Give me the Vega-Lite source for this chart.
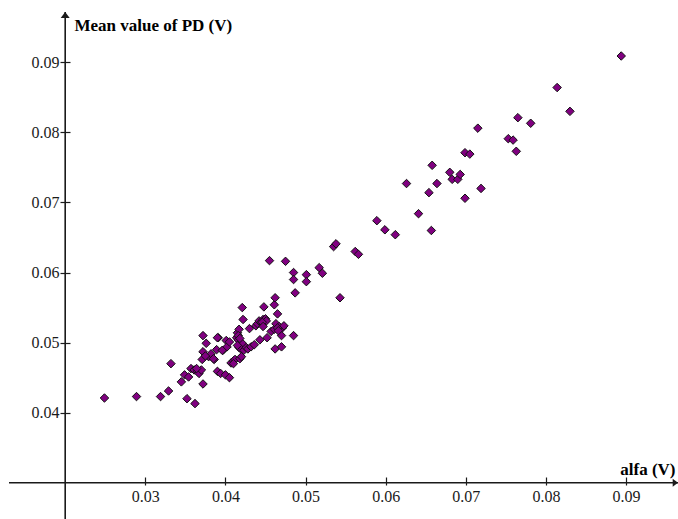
{
  "$schema": "https://vega.github.io/schema/vega-lite/v6.json",
  "width": 669,
  "height": 507,
  "autosize": {"type": "none"},
  "padding": {"left": 9, "top": 12, "right": 0, "bottom": 0},
  "background": "white",
  "config": {
    "view": {"stroke": null},
    "font": "Liberation Serif",
    "axis": {
      "grid": false,
      "domain": false,
      "labelFont": "Liberation Serif",
      "labelFontSize": 16,
      "labelColor": "#1a1a1a",
      "tickColor": "#1a1a1a",
      "tickWidth": 1.2,
      "titleFont": "Liberation Serif",
      "titleFontSize": 17,
      "titleFontWeight": "bold",
      "titleColor": "#000000"
    }
  },
  "datasets": {
    "one": [{}],
    "pd": [
      {"alfa": 0.0249, "pd": 0.0421}, {"alfa": 0.0289, "pd": 0.0423}, {"alfa": 0.0319, "pd": 0.0423},
      {"alfa": 0.0329, "pd": 0.0431}, {"alfa": 0.0345, "pd": 0.0444}, {"alfa": 0.0352, "pd": 0.0420},
      {"alfa": 0.0362, "pd": 0.0413}, {"alfa": 0.0332, "pd": 0.0470}, {"alfa": 0.0349, "pd": 0.0454},
      {"alfa": 0.0354, "pd": 0.0451}, {"alfa": 0.0357, "pd": 0.0463}, {"alfa": 0.0361, "pd": 0.0461},
      {"alfa": 0.0365, "pd": 0.0459}, {"alfa": 0.0367, "pd": 0.0456}, {"alfa": 0.0370, "pd": 0.0461},
      {"alfa": 0.0372, "pd": 0.0441}, {"alfa": 0.0371, "pd": 0.0476}, {"alfa": 0.0372, "pd": 0.0487},
      {"alfa": 0.0376, "pd": 0.0499}, {"alfa": 0.0372, "pd": 0.0510}, {"alfa": 0.0379, "pd": 0.0480},
      {"alfa": 0.0382, "pd": 0.0484}, {"alfa": 0.0386, "pd": 0.0476}, {"alfa": 0.0389, "pd": 0.0490},
      {"alfa": 0.0391, "pd": 0.0507}, {"alfa": 0.0390, "pd": 0.0459}, {"alfa": 0.0394, "pd": 0.0456},
      {"alfa": 0.0400, "pd": 0.0454}, {"alfa": 0.0405, "pd": 0.0450}, {"alfa": 0.0397, "pd": 0.0489},
      {"alfa": 0.0401, "pd": 0.0503}, {"alfa": 0.0402, "pd": 0.0494}, {"alfa": 0.0405, "pd": 0.0501},
      {"alfa": 0.0407, "pd": 0.0471}, {"alfa": 0.0410, "pd": 0.0474}, {"alfa": 0.0412, "pd": 0.0476},
      {"alfa": 0.0414, "pd": 0.0507}, {"alfa": 0.0415, "pd": 0.0514}, {"alfa": 0.0416, "pd": 0.0504},
      {"alfa": 0.0417, "pd": 0.0519}, {"alfa": 0.0417, "pd": 0.0493}, {"alfa": 0.0418, "pd": 0.0477},
      {"alfa": 0.0421, "pd": 0.0550}, {"alfa": 0.0422, "pd": 0.0533}, {"alfa": 0.0421, "pd": 0.0499},
      {"alfa": 0.0420, "pd": 0.0490}, {"alfa": 0.0423, "pd": 0.0489}, {"alfa": 0.0426, "pd": 0.0493},
      {"alfa": 0.0430, "pd": 0.0520}, {"alfa": 0.0428, "pd": 0.0491}, {"alfa": 0.0432, "pd": 0.0494},
      {"alfa": 0.0436, "pd": 0.0497}, {"alfa": 0.0438, "pd": 0.0524}, {"alfa": 0.0440, "pd": 0.0527},
      {"alfa": 0.0442, "pd": 0.0531}, {"alfa": 0.0443, "pd": 0.0504}, {"alfa": 0.0445, "pd": 0.0530},
      {"alfa": 0.0447, "pd": 0.0533}, {"alfa": 0.0450, "pd": 0.0534}, {"alfa": 0.0451, "pd": 0.0531},
      {"alfa": 0.0448, "pd": 0.0551}, {"alfa": 0.0452, "pd": 0.0507}, {"alfa": 0.0457, "pd": 0.0516},
      {"alfa": 0.0461, "pd": 0.0519}, {"alfa": 0.0461, "pd": 0.0554}, {"alfa": 0.0462, "pd": 0.0564},
      {"alfa": 0.0462, "pd": 0.0491}, {"alfa": 0.0465, "pd": 0.0541}, {"alfa": 0.0463, "pd": 0.0527},
      {"alfa": 0.0467, "pd": 0.0523}, {"alfa": 0.0470, "pd": 0.0510}, {"alfa": 0.0470, "pd": 0.0494},
      {"alfa": 0.0471, "pd": 0.0521}, {"alfa": 0.0473, "pd": 0.0524}, {"alfa": 0.0485, "pd": 0.0510},
      {"alfa": 0.0364, "pd": 0.0463}, {"alfa": 0.0375, "pd": 0.0481}, {"alfa": 0.0396, "pd": 0.0489},
      {"alfa": 0.0415, "pd": 0.0496}, {"alfa": 0.0446, "pd": 0.0529}, {"alfa": 0.0447, "pd": 0.0523},
      {"alfa": 0.0465, "pd": 0.0521}, {"alfa": 0.0466, "pd": 0.0517}, {"alfa": 0.0416, "pd": 0.0510},
      {"alfa": 0.0418, "pd": 0.0506}, {"alfa": 0.0390, "pd": 0.0507}, {"alfa": 0.0420, "pd": 0.0480},
      {"alfa": 0.0410, "pd": 0.0470}, {"alfa": 0.0385, "pd": 0.0477},
      {"alfa": 0.0455, "pd": 0.0617}, {"alfa": 0.0475, "pd": 0.0616}, {"alfa": 0.0485, "pd": 0.0600},
      {"alfa": 0.0485, "pd": 0.0590}, {"alfa": 0.0487, "pd": 0.0571}, {"alfa": 0.0501, "pd": 0.0597},
      {"alfa": 0.0501, "pd": 0.0587}, {"alfa": 0.0517, "pd": 0.0607}, {"alfa": 0.0521, "pd": 0.0599},
      {"alfa": 0.0543, "pd": 0.0564}, {"alfa": 0.0535, "pd": 0.0637}, {"alfa": 0.0538, "pd": 0.0641},
      {"alfa": 0.0562, "pd": 0.0630}, {"alfa": 0.0566, "pd": 0.0626}, {"alfa": 0.0589, "pd": 0.0674},
      {"alfa": 0.0599, "pd": 0.0661}, {"alfa": 0.0612, "pd": 0.0654}, {"alfa": 0.0626, "pd": 0.0727},
      {"alfa": 0.0641, "pd": 0.0684}, {"alfa": 0.0654, "pd": 0.0714}, {"alfa": 0.0657, "pd": 0.0660},
      {"alfa": 0.0658, "pd": 0.0753}, {"alfa": 0.0664, "pd": 0.0727}, {"alfa": 0.0680, "pd": 0.0743},
      {"alfa": 0.0683, "pd": 0.0733}, {"alfa": 0.0690, "pd": 0.0733}, {"alfa": 0.0693, "pd": 0.0740},
      {"alfa": 0.0699, "pd": 0.0771}, {"alfa": 0.0705, "pd": 0.0769}, {"alfa": 0.0699, "pd": 0.0706},
      {"alfa": 0.0715, "pd": 0.0806}, {"alfa": 0.0719, "pd": 0.0720}, {"alfa": 0.0753, "pd": 0.0791},
      {"alfa": 0.0759, "pd": 0.0789}, {"alfa": 0.0763, "pd": 0.0773}, {"alfa": 0.0765, "pd": 0.0821},
      {"alfa": 0.0781, "pd": 0.0813}, {"alfa": 0.0814, "pd": 0.0864}, {"alfa": 0.0830, "pd": 0.0830},
      {"alfa": 0.0894, "pd": 0.0909}
    ]
  },
  "layer": [
    {
      "description": "horizontal axis line at pd = 0.03",
      "data": {"name": "one"},
      "mark": {"type": "rule", "color": "#1a1a1a", "strokeWidth": 1.6},
      "encoding": {"y": {"datum": 0.03, "type": "quantitative", "scale": {"domain": [0.024832, 0.097178], "nice": false, "zero": false}}}
    },
    {
      "description": "vertical axis line at alfa = 0.02",
      "data": {"name": "one"},
      "mark": {"type": "rule", "color": "#1a1a1a", "strokeWidth": 1.6},
      "encoding": {"x": {"datum": 0.02, "type": "quantitative", "scale": {"domain": [0.012986, 0.096485], "nice": false, "zero": false}}}
    },
    {
      "description": "arrow head of the vertical axis",
      "data": {"name": "one"},
      "mark": {"type": "point", "shape": "M0,0L1,1.33L-1,1.33Z", "size": 81, "filled": true, "color": "#1a1a1a", "opacity": 1},
      "encoding": {
        "x": {"datum": 0.02, "type": "quantitative"},
        "y": {"datum": 0.097178, "type": "quantitative"}
      }
    },
    {
      "description": "arrow head of the horizontal axis",
      "data": {"name": "one"},
      "mark": {"type": "point", "shape": "M0,0L-1.33,-1L-1.33,1Z", "size": 64, "filled": true, "color": "#1a1a1a", "opacity": 1},
      "encoding": {
        "x": {"datum": 0.096485, "type": "quantitative"},
        "y": {"datum": 0.03, "type": "quantitative"}
      }
    },
    {
      "data": {"name": "pd"},
      "mark": {"type": "point", "shape": "diamond", "size": 72, "filled": true, "fill": "#800080", "stroke": "#111111", "strokeWidth": 1, "opacity": 1},
      "encoding": {
        "x": {
          "field": "alfa",
          "type": "quantitative",
          "axis": {
            "orient": "bottom",
            "offset": -42,
            "values": [0.03, 0.04, 0.05, 0.06, 0.07, 0.08, 0.09],
            "format": ".2f",
            "tickSize": 8,
            "labelFont": "Liberation Serif",
            "labelFontSize": 16,
            "labelPadding": 3,
            "labelFlush": false,
            "title": "alfa (V)",
            "titleFont": "Liberation Serif",
            "titleAnchor": null,
            "titleAlign": "right",
            "titleBaseline": "alphabetic",
            "titleX": 666,
            "titleY": -3
          }
        },
        "y": {
          "field": "pd",
          "type": "quantitative",
          "axis": {
            "orient": "left",
            "offset": -61,
            "values": [0.04, 0.05, 0.06, 0.07, 0.08, 0.09],
            "format": ".2f",
            "tickSize": 10,
            "labelFont": "Liberation Serif",
            "labelFontSize": 16,
            "labelPadding": 1,
            "labelFlush": false,
            "title": "Mean value of PD (V)",
            "titleFont": "Liberation Serif",
            "titleAngle": 0,
            "titleAnchor": null,
            "titleAlign": "left",
            "titleBaseline": "alphabetic",
            "titleX": 4,
            "titleY": 18.5
          }
        }
      }
    }
  ]
}
